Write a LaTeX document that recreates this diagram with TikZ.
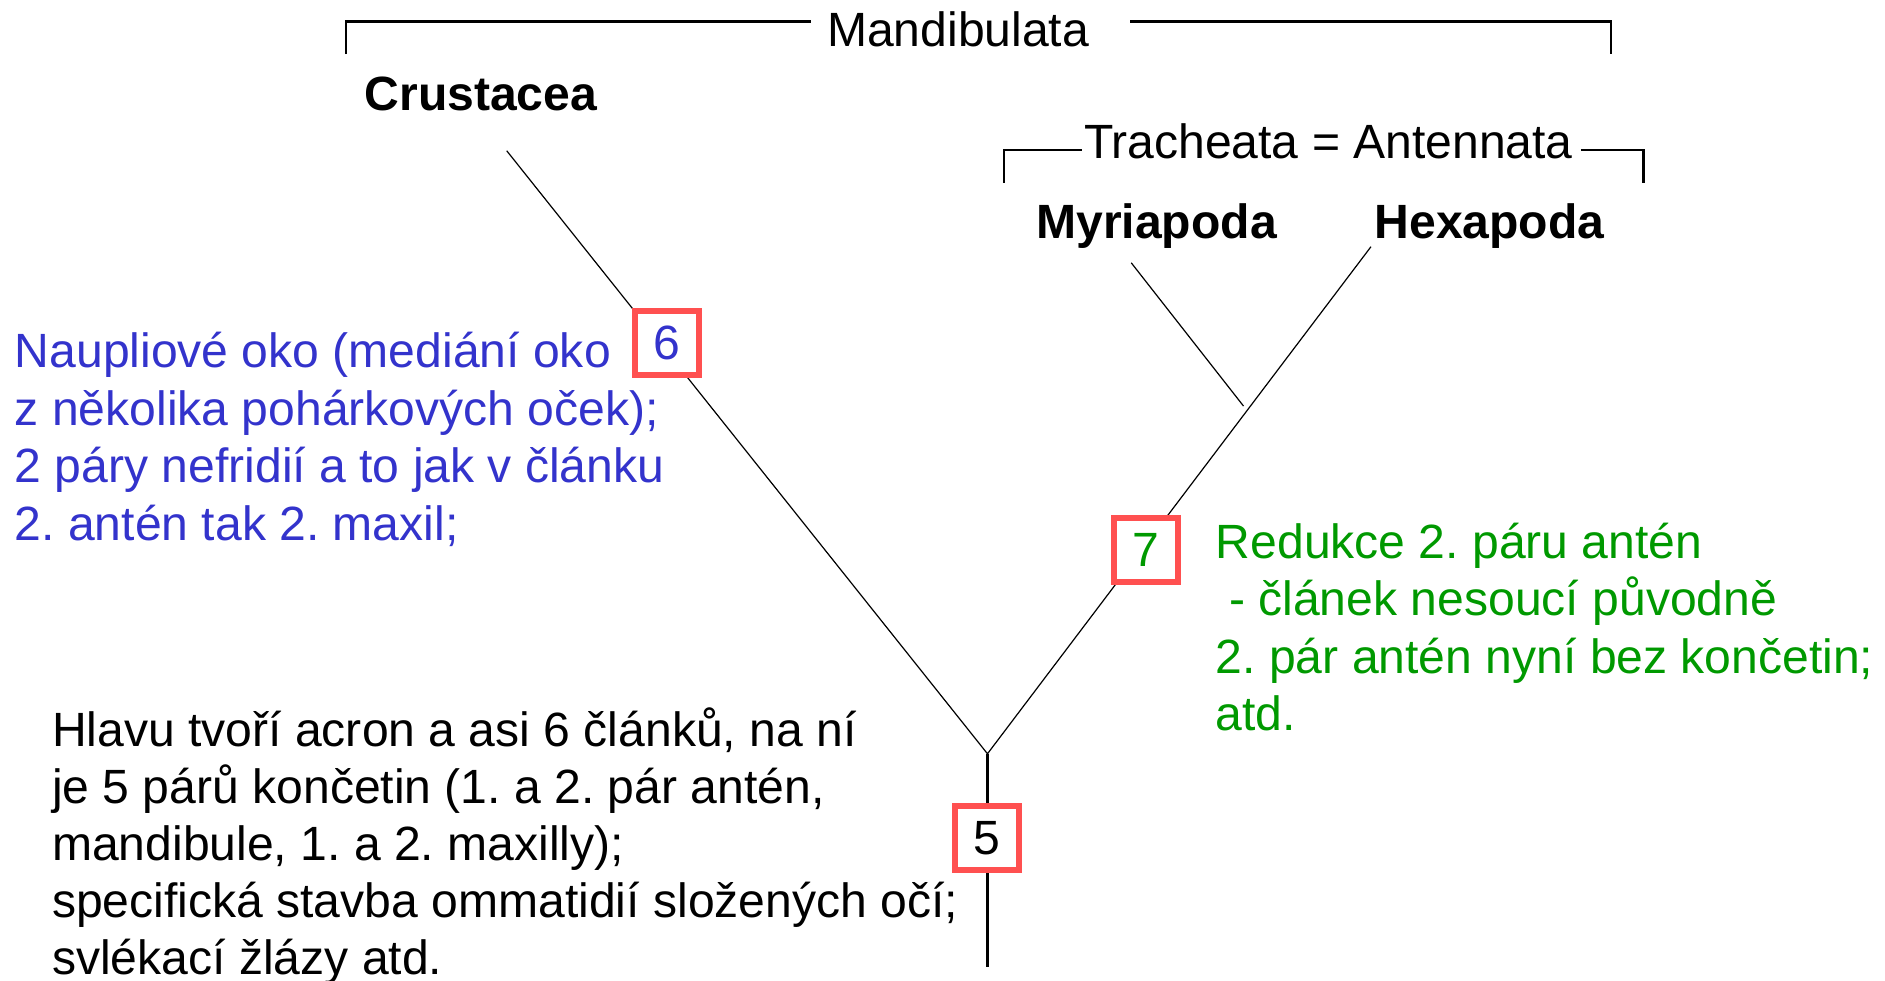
\documentclass[tikz,border=0pt]{standalone}
\usepackage{fontspec}
\setmainfont{Liberation Sans}
\usepackage{xcolor}
\usepackage{tikz}
\usetikzlibrary{calc}
\definecolor{boxred}{RGB}{255,80,80}
\definecolor{txtblue}{RGB}{51,51,204}
\definecolor{txtgreen}{RGB}{0,153,0}
\frenchspacing

\begin{document}
\begin{tikzpicture}[x=0.6pt,y=-0.6pt,
  txt/.style={anchor=base west,inner sep=0pt,font=\fontsize{24}{28.8}\selectfont},
  clade/.style={anchor=base,inner sep=0pt,font=\fontsize{24}{28.8}\selectfont},
  taxon/.style={clade,font=\fontsize{24}{28.8}\selectfont\bfseries},
  numbox/.style={draw=boxred,line width=3pt,fill=white,minimum size=32pt,inner sep=0pt,font=\fontsize{24}{28.8}\selectfont},
  branch/.style={line width=0.6pt},
  brace/.style={line width=1.2pt}]

  \useasboundingbox (0,0) rectangle (1568,815.2);

  \node[clade] at (797,39) (mand){Mandibulata};
  \node[taxon] at (400,92) (cr){Crustacea};
  \node[clade] at (1105,132) (trach){Tracheata = Antennata};
  \node[taxon] at (962,198) (my){Myriapoda};
  \node[taxon] at (1239,198) (hx){Hexapoda};

  % brackets
  \coordinate (mandL) at (288,45);
  \coordinate (mandA) at (675,18);
  \coordinate (mandB) at (940,18);
  \coordinate (mandR) at (1340,45);
  \draw[brace] (mandL) |- (mandA);
  \draw[brace] (mandB) -| (mandR);
  \coordinate (trL) at (835,152);
  \coordinate (trA) at (900,125);
  \coordinate (trB) at (1315,125);
  \coordinate (trR) at (1367,152);
  \draw[brace] (trL) |- (trA);
  \draw[brace] (trB) -| (trR);

  % tree
  \coordinate (crTop) at (421.5,125.4);
  \coordinate (myTop) at (941,218.6);
  \coordinate (myEnd) at (1034.4,337.8);
  \coordinate (hxTop) at (1140.4,205.2);
  \coordinate (root) at (821.4,627);
  \coordinate (foot) at (821.4,804);
  \draw[branch] (crTop) -- (root) -- (hxTop);
  \draw[branch] (myTop) -- (myEnd);
  \draw[line width=1.5pt] (root) -- (foot);

  \node[numbox,text=txtblue] at (555,285) (b6){6};
  \node[numbox,text=txtgreen] at (953.5,457.5) (b7){7};
  \node[numbox] at (821,697) (b5){5};

  % blue text
  \node[txt,text=txtblue] at (12,305.6) (n1){Naupliové oko (mediání oko};
  \node[txt,text=txtblue] at ([yshift=-28.8pt]n1.base west) (n2){z několika pohárkových oček);};
  \node[txt,text=txtblue] at ([yshift=-28.8pt]n2.base west) (n3){2 páry nefridií a to jak v článku};
  \node[txt,text=txtblue] at ([yshift=-28.8pt]n3.base west) (n4){2. antén tak 2. maxil;};

  % green text
  \node[txt,text=txtgreen] at (1011,464.5) (g1){Redukce 2. páru antén};
  \node[txt,text=txtgreen] at ([yshift=-28.6pt]g1.base west) (g2){\ - článek nesoucí původně};
  \node[txt,text=txtgreen] at ([yshift=-28.6pt]g2.base west) (g3){2. pár antén nyní bez končetin;};
  \node[txt,text=txtgreen] at ([yshift=-28.6pt]g3.base west) (g4){atd.};

  % black text
  \node[txt] at (43,620.6) (h1){Hlavu tvoří acron a asi 6 článků, na ní};
  \node[txt] at ([yshift=-28.5pt]h1.base west) (h2){je 5 párů končetin (1. a 2. pár antén,};
  \node[txt] at ([yshift=-28.5pt]h2.base west) (h3){mandibule, 1. a 2. maxilly);};
  \node[txt] at ([yshift=-28.5pt]h3.base west) (h4){specifická stavba ommatidií složených očí;};
  \node[txt] at ([yshift=-28.5pt]h4.base west) (h5){svlékací žlázy atd.};

\end{tikzpicture}
\end{document}
